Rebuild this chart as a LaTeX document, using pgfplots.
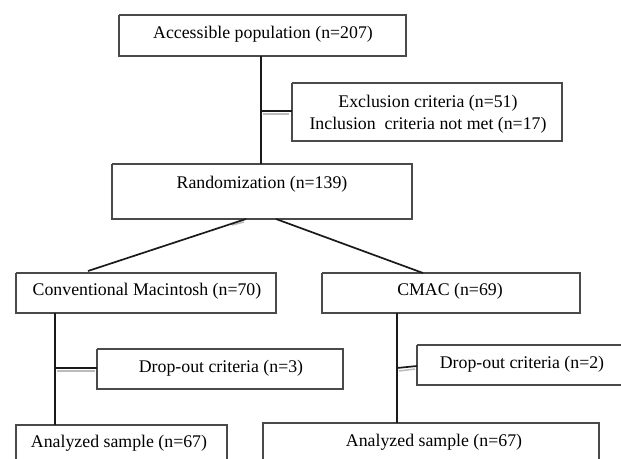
\documentclass[border=0pt]{standalone}
\usepackage{pgfplots}
\pgfplotsset{compat=1.18}
\usepackage{fontspec}
\setmainfont{Liberation Serif}
\definecolor{boxgray}{HTML}{4A4A4A}
\definecolor{linek}{HTML}{1A1A1A}
\definecolor{shadow}{HTML}{BBBBBB}
\tikzset{tx/.style={font=\fontsize{17.8bp}{21bp}\selectfont,inner sep=0pt,text=black}}
\begin{document}
\begin{tikzpicture}
\begin{axis}[width=621bp,height=459bp,scale only axis,
  xmin=0,xmax=621,ymin=0,ymax=459,y dir=reverse,hide axis,clip=true,
  every axis plot/.append style={mark=none}]
% boxes
\addplot[draw=boxgray,line width=1.1bp] coordinates {(119,15)(406,15)(406,56)(119,56)(119,15)};
\addplot[draw=boxgray,line width=1.1bp] coordinates {(292,83)(562,83)(562,141)(292,141)(292,83)};
\addplot[draw=boxgray,line width=1.1bp] coordinates {(112,164)(412,164)(412,219)(112,219)(112,164)};
\addplot[draw=boxgray,line width=1.1bp] coordinates {(16,273)(276,273)(276,313)(16,313)(16,273)};
\addplot[draw=boxgray,line width=1.1bp] coordinates {(322,273)(580,273)(580,313)(322,313)(322,273)};
\addplot[draw=boxgray,line width=1.1bp] coordinates {(97,349)(343,349)(343,389)(97,389)(97,349)};
\addplot[draw=boxgray,line width=1.1bp] coordinates {(417,345)(625,345)(625,385)(417,385)(417,345)};
\addplot[draw=boxgray,line width=1.1bp] coordinates {(16,470)(16,425)(227,425)(227,470)};
\addplot[draw=boxgray,line width=1.1bp] coordinates {(263,470)(263,423)(599,423)(599,470)};
% shadows
\addplot[draw=shadow,line width=1.5bp] coordinates {(263,114)(289,114)};
\addplot[draw=shadow,line width=1.5bp] coordinates {(57,371)(95,371)};
\addplot[draw=shadow,line width=1.5bp] coordinates {(399,371)(415,369)};
\addplot[draw=shadow,line width=1.5bp] coordinates {(244,222)(232,225)};
% connectors
\addplot[draw=linek,line width=1.7bp] coordinates {(261,56)(261,164)};
\addplot[draw=linek,line width=1.7bp] coordinates {(261,111)(292,111)};
\addplot[draw=linek,line width=1.7bp] coordinates {(246,219)(88,271)};
\addplot[draw=linek,line width=1.7bp] coordinates {(276,219)(423,273)};
\addplot[draw=linek,line width=1.7bp] coordinates {(55,313)(55,425)};
\addplot[draw=linek,line width=1.7bp] coordinates {(55,368)(97,368)};
\addplot[draw=linek,line width=1.7bp] coordinates {(397,313)(397,423)};
\addplot[draw=linek,line width=1.7bp] coordinates {(397,368)(417,366)};
% texts
\node[tx] at (axis cs:263,34) {Accessible population (n=207)};
\node[tx] at (axis cs:428,103) {Exclusion criteria (n=51)};
\node[tx] at (axis cs:428,125) {Inclusion\ \ criteria not met (n=17)};
\node[tx] at (axis cs:262,184) {Randomization (n=139)};
\node[tx] at (axis cs:147,291) {Conventional Macintosh (n=70)};
\node[tx] at (axis cs:450,291) {CMAC (n=69)};
\node[tx] at (axis cs:221,368) {Drop-out criteria (n=3)};
\node[tx] at (axis cs:522,364) {Drop-out criteria (n=2)};
\node[tx] at (axis cs:119,443) {Analyzed sample (n=67)};
\node[tx] at (axis cs:434,442) {Analyzed sample (n=67)};
\end{axis}
\path (current axis.south west) rectangle (current axis.north east);
\end{tikzpicture}
\end{document}
